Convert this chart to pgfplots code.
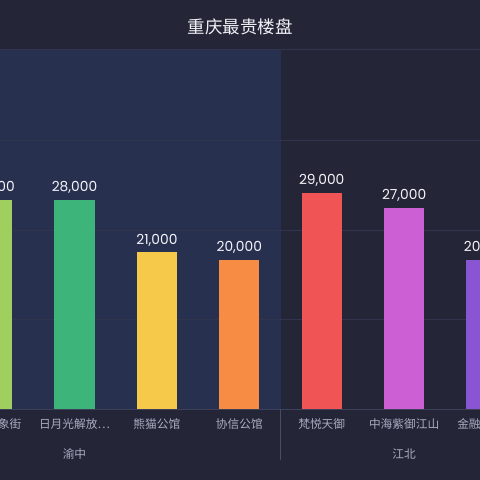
\documentclass[border=0pt]{standalone}
\usepackage{fontspec}
\setmainfont{Poppins}
\newfontfamily\cjk{Noto Sans CJK SC}
\usepackage{pgfplots}
\pgfplotsset{compat=1.18}

\definecolor{bgdark}{HTML}{252538}
\definecolor{hlblue}{HTML}{283050}
\definecolor{gridcol}{HTML}{30354D}
\definecolor{axiscol}{HTML}{3C4059}
\definecolor{labcol}{HTML}{A9ADBF}
\definecolor{valcol}{HTML}{F4F4F8}
\definecolor{c1}{HTML}{9FCF5E}
\definecolor{c2}{HTML}{3DB47A}
\definecolor{c3}{HTML}{F6C94B}
\definecolor{c4}{HTML}{F78C45}
\definecolor{c5}{HTML}{F15455}
\definecolor{c6}{HTML}{CD5FD5}
\definecolor{c7}{HTML}{8A55D2}

\tikzset{
  catlab/.style={anchor=center, yshift=-15bp, text=labcol,
    font=\cjk\fontsize{11.7bp}{14bp}\selectfont},
}
\pgfplotsset{
  valbar/.style={
    ybar, bar width=0.49, bar shift=0, draw=none, fill=#1,
    nodes near coords={\pgfmathprintnumber[fixed,precision=0,1000 sep={,},assume math mode=true]{\pgfplotspointmeta}},
    every node near coord/.append style={anchor=base, yshift=8.4bp, inner sep=0pt,
      text=valcol, font=\fontsize{13.8bp}{16bp}\selectfont},
  },
}

\begin{document}
\begin{tikzpicture}[x=1bp,y=1bp]
% page background and the highlighted band behind the first group
\fill[bgdark] (0,0) rectangle (480,480);
\fill[hlblue] (0,71) rectangle (280.5,431);
\node[font=\cjk\fontsize{17.5bp}{21bp}\selectfont, text=valcol!95!labcol] at (240,453.5) {重庆最贵楼盘};

\begin{axis}[
  at={(0bp,71bp)}, anchor=south west,
  scale only axis, width=480bp, height=360bp,
  xmin=0.096, xmax=5.921, ymin=0, ymax=48300,
  clip=false,
  scaled y ticks=false,
  axis line style={draw=none},
  tick style={draw=none},
  major tick length=0pt,
  ytick={0,12000,24000,36000,48300},
  yticklabels={},
  ymajorgrids,
  grid style={gridcol, line width=0.9bp},
  xtick={1,2,3,4,5},
  xticklabels={日月光解放…,熊猫公馆,协信公馆,梵悦天御,中海紫御江山},
  xticklabel style={catlab},
]
\addplot[valbar=c1] coordinates {(0,28000)};
\addplot[valbar=c2] coordinates {(1,28000)};
\addplot[valbar=c3] coordinates {(2,21000)};
\addplot[valbar=c4] coordinates {(3,20000)};
\addplot[valbar=c5] coordinates {(4,29000)};
\addplot[valbar=c6] coordinates {(5,27000)};
\addplot[valbar=c7] coordinates {(6,20000)};

\draw[axiscol, line width=0.8bp] (axis cs:-1,0) -- (axis cs:7,0);
\draw[gridcol!80!labcol, line width=0.6bp] (axis cs:3.5,0) -- ++(0,-51bp);
% the two outer categories fall outside the visible x range
\node[catlab] at (axis cs:0,0) {融创白象街};
\node[catlab] at (axis cs:6,0) {金融街融御};
\node[catlab, yshift=-30bp] at (axis cs:1,0) {渝中};
\node[catlab, yshift=-30bp] at (axis cs:5,0) {江北};
\end{axis}
\pgfresetboundingbox
\path[use as bounding box] (0,0) rectangle (480,480);
\end{tikzpicture}
\end{document}
